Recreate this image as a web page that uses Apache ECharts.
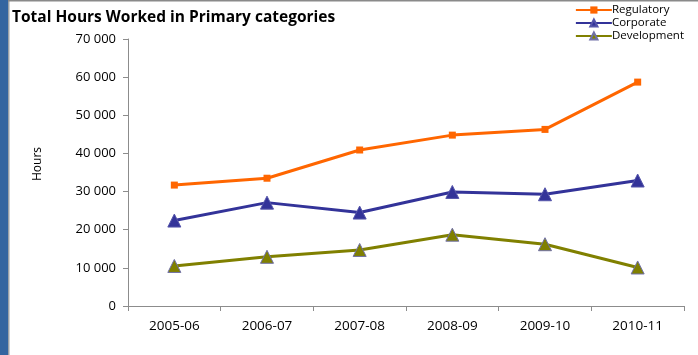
<!DOCTYPE html>
<html><head><meta charset="utf-8">
<script src="https://cdn.jsdelivr.net/npm/echarts@6/dist/echarts.min.js"></script>
<style>html,body{margin:0;padding:0;background:#fff}#c{width:698px;height:355px}</style>
</head><body><div id="c"></div>
<script>
const categories = ['2005-06','2006-07','2007-08','2008-09','2009-10','2010-11'];
const regulatory = [31700, 33500, 40900, 44800, 46300, 58700];
const corporate = [22400, 27100, 24500, 29900, 29300, 32900];
const development = [10500, 12900, 14700, 18700, 16200, 10100];
const yTicks = [0, 10000, 20000, 30000, 40000, 50000, 60000, 70000];

const fmt = v => String(v).replace(/\B(?=(\d{3})+(?!\d))/g, ' ');
const chart = echarts.init(document.getElementById('c'), null, {renderer:'canvas'});
const font = '"Open Sans", sans-serif';
chart.setOption({
  animation:false,
  backgroundColor:'#fff',
  graphic:[
    {type:'rect', shape:{x:0,y:0,width:8,height:355}, style:{fill:'#3465a0'}},
    {type:'rect', shape:{x:8,y:0,width:1.5,height:355}, style:{fill:'#9aa0a6'}},
    {type:'rect', shape:{x:8,y:0,width:690,height:1.5}, style:{fill:'#8a8a8a'}},
    {type:'text', x:38, y:164, rotation:Math.PI/2,
      style:{text:'Hours', fontFamily:font, fontSize:12, fill:'#000', align:'center', verticalAlign:'middle'}}
  ],
  title:{text:'Total Hours Worked in Primary categories', left:7, top:5,
    textStyle:{fontFamily:font, fontWeight:'bold', fontSize:15.5, color:'#000'}},
  legend:{orient:'vertical', right:9, top:-1, itemGap:1, itemWidth:36, itemHeight:9,
    textStyle:{fontFamily:font, fontSize:11.5, color:'#000', padding:[0,0,0,-5]},
    data:['Regulatory','Corporate','Development']},
  grid:{left:128, right:14, top:39, bottom:49},
  xAxis:{type:'category', data:categories, boundaryGap:true,
    axisLine:{lineStyle:{color:'#8c8c8c', width:1}},
    axisTick:{show:true, length:5, lineStyle:{color:'#8c8c8c'}},
    axisLabel:{fontFamily:font, fontSize:13.5, color:'#000', margin:13}},
  yAxis:{type:'value', min:yTicks[0], max:yTicks[yTicks.length-1], interval:10000,
    axisLine:{show:true, lineStyle:{color:'#8c8c8c'}},
    axisTick:{show:true, length:5, lineStyle:{color:'#8c8c8c'}},
    splitLine:{show:false},
    axisLabel:{fontFamily:font, fontSize:13, color:'#000', margin:12, formatter:fmt}},
  series:[
    {name:'Regulatory', type:'line', data:regulatory, symbol:'rect', symbolSize:7,
      lineStyle:{color:'#ff6600', width:3}, itemStyle:{color:'#ff6600'}},
    {name:'Corporate', type:'line', data:corporate, symbol:'triangle', symbolSize:13,
      lineStyle:{color:'#333399', width:3}, itemStyle:{color:'#333399', borderColor:'#5555aa', borderWidth:1}},
    {name:'Development', type:'line', data:development, symbol:'triangle', symbolSize:13,
      lineStyle:{color:'#808000', width:3}, itemStyle:{color:'#808000', borderColor:'#7070a8', borderWidth:1}}
  ]
});
</script></body></html>
